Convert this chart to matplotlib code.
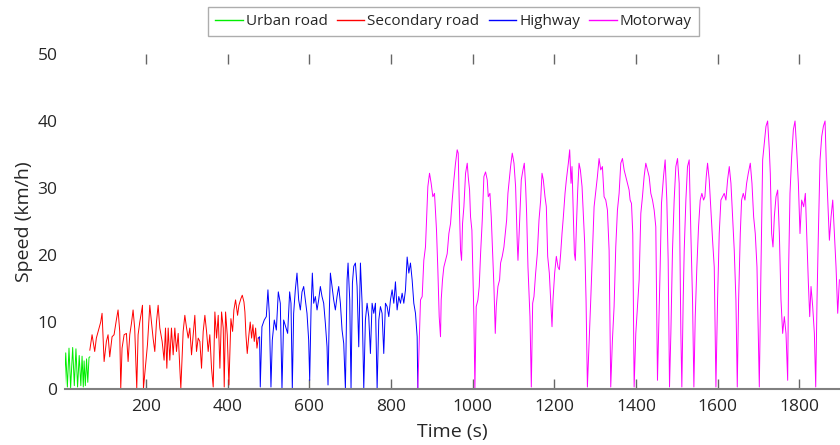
import matplotlib
matplotlib.use("Agg")
import matplotlib.pyplot as plt
from matplotlib.lines import Line2D

plt.rcParams['font.family'] = ['Open Sans', 'DejaVu Sans']

# ---- data (time in s, speed in km/h) ----
urban_t = [0, 3, 7, 11, 15, 20, 24, 28, 32, 36, 40, 43, 46, 48, 51, 54, 57, 60, 62]
urban_v = [0.5, 5.4, 0.3, 6.1, 0.2, 6.2, 0.5, 6.0, 0.3, 5.0, 0.5, 4.9, 0.3, 4.2, 0.5, 4.5, 1.0, 4.7, 4.8]

secondary_t = [62, 67.5, 74, 78, 88.7, 92, 97, 102.6, 106.7, 110.8, 116.5, 121.4, 127, 131.2, 135.3,
               137.8, 141, 146, 151.7, 155.8, 159.9, 164, 168, 172, 177, 180.3, 184.4, 188.5, 191,
               193.4, 203.2, 209, 213, 217, 221.2, 225.3, 229.4, 233.5, 239.2, 244, 247.4, 250.7,
               254, 258, 262, 266.2, 270.3, 274.4, 278.5, 282.5, 285, 290.7, 294.8, 299, 303, 307,
               311.2, 315.3, 319.3, 323.4, 327.5, 331.6, 335.7, 339.8, 343.9, 348, 352, 356, 360.2,
               364.3, 368.4, 372.5, 376.6, 380.7, 384.8, 388.9, 391.3, 394.6, 398.7, 402.8, 407.7,
               411.8, 415, 419.1, 424, 427.3, 432.2, 435.5, 439.6, 442, 444.5, 447.7, 451.8, 455,
               458.4, 461.6, 464.9, 468.2, 471.5, 474.7]
secondary_v = [5.8, 8.1, 5.6, 7.6, 10.0, 11.3, 4.1, 7.1, 8.1, 4.8, 7.8, 8.1, 10.3, 11.8, 8.6,
               0.1, 6.1, 8.1, 8.3, 4.1, 8.1, 9.8, 11.8, 9.0, 0.1, 8.1, 10.0, 11.5, 12.5,
               0.1, 6.6, 12.5, 10.0, 7.6, 5.6, 10.0, 12.5, 9.1, 7.1, 4.3, 9.1, 3.1,
               9.1, 4.3, 9.1, 5.1, 9.1, 5.6, 8.3, 3.1, 0.1, 8.6, 11.0, 9.1, 7.6, 9.1,
               5.1, 8.1, 11.0, 5.6, 7.6, 7.1, 3.1, 8.6, 11.0, 8.6, 5.6, 8.1, 3.1,
               0.3, 11.5, 7.6, 11.0, 3.1, 11.5, 9.1, 0.3, 11.5, 8.1, 0.6, 10.5,
               8.6, 11.8, 13.3, 11.0, 12.5, 13.5, 14.0, 13.0, 11.5, 8.1, 5.3, 8.1, 10.0,
               7.6, 9.6, 7.1, 9.1, 6.1, 7.6]

highway_t = [474.7, 478, 479.6, 483.7, 489.4, 494.4, 498.4, 501.7, 505.8, 509.1, 514, 519, 523.8,
             528.7, 532.8, 536.9, 541.8, 546.7, 551.6, 554.9, 558.1, 561.4, 565.5, 569.6, 573.7,
             577.8, 581.9, 586, 590, 594.1, 598.2, 600.7, 604, 607.2, 610.5, 614.6, 618.7, 622.7,
             626.8, 630.9, 635, 639.1, 643.2, 645.6, 648.9, 651.4, 655.5, 659.5, 663.6, 667.7,
             671.8, 675.9, 680, 684.1, 688.2, 692.3, 694.7, 698.8, 702, 705.4, 708.6, 712.7,
             716.8, 720.9, 725, 729.1, 733.2, 737.2, 741.3, 745.4, 749.5, 753.6, 757.7, 761.8,
             765.9, 770, 774, 778.1, 782.2, 786.3, 790.4, 794.5, 798.6, 802.7, 806.8, 810.8,
             814.9, 819, 823.1, 827.2, 831.3, 835.4, 839.5, 843.6, 847.6, 851.7, 855.8, 859.9,
             864, 865.6]
highway_v = [7.6, 7.8, 0.3, 9.3, 10.3, 10.8, 14.8, 11.3, 0.3, 7.3, 10.3, 8.8, 14.5,
             12.8, 0, 10.3, 9.3, 8.3, 14.5, 12.8, 0, 11.3, 14.8, 17.3, 13.3,
             11.8, 14.5, 15.3, 13.3, 11.3, 7.3, 1.3, 11.8, 17.3, 12.8, 13.8, 11.8, 13.3,
             15.3, 13.8, 12.8, 9.8, 6.3, 0.6, 11.8, 17.3, 15.3, 13.3, 11.8, 13.8,
             15.3, 12.8, 8.8, 6.8, 0, 16.3, 18.8, 13.3, 0, 15.8, 18.3, 18.8,
             15.3, 6.3, 18.8, 12.8, 0, 10.3, 12.8, 10.8, 5.3, 12.8, 11.3, 12.8,
             0, 10.3, 12.3, 11.3, 5.3, 12.8, 12.3, 10.8, 13.3, 14.8, 12.8, 16.0,
             11.8, 13.8, 12.8, 14.3, 12.8, 14.8, 19.7, 17.3, 18.8, 16.3, 12.8, 11.3,
             7.8, 0]

motorway_t = [865.6, 872.2, 876.3, 880.3, 884.4, 886.9, 890.2, 894.3, 898.3, 902.4, 906.5, 908.2,
              911.4, 914.7, 918, 921.2, 922.9, 926.1, 929.4, 933.5, 937.6, 941.7, 945.8, 949.9,
              954, 958, 962.1, 964.6, 967, 970.3, 972.8, 975.2, 978.5, 982.6, 986.7, 989.1,
              992.4, 994.8, 998.1, 1000.6, 1003, 1005.5, 1008.7, 1012.8, 1016.1, 1019.4, 1023.5,
              1027.5, 1031.6, 1035.7, 1038.2, 1042.3, 1045.5, 1048.8, 1052.1, 1055.4, 1057.8,
              1061.9, 1066, 1068.4, 1072.5, 1076.6, 1079.9, 1083.2, 1086.4, 1089.7, 1092.9, 1097,
              1101.2, 1105.2, 1109.3, 1111, 1114.2, 1119.1, 1123.2, 1126.5, 1129.8, 1132.2,
              1135.5, 1140.4, 1143.7, 1147, 1150.2, 1154.3, 1158.4, 1162.5, 1166.6, 1169.9,
              1173.1, 1177.2, 1180.5, 1183.8, 1187.8, 1191.1, 1194.4, 1196.8, 1200.9, 1205,
              1209.1, 1212.4, 1215.6, 1218.9, 1222.2, 1226.3, 1229.5, 1234.4, 1237.7, 1241,
              1243.4, 1246.7, 1249.2, 1251.6, 1254.1, 1257.4, 1260.6, 1263.9, 1268, 1271.3,
              1274.5, 1277.8, 1281.1, 1289.3, 1297.5, 1305.6, 1309.7, 1313.8, 1317.9, 1322,
              1326.1, 1330.2, 1334.3, 1338.3, 1342.4, 1346.5, 1350.6, 1354.7, 1358.8, 1362.9,
              1367, 1371.1, 1375.2, 1379.2, 1383.3, 1385.8, 1389.1, 1392.3, 1395.6, 1399.7,
              1403.8, 1407.9, 1412, 1416, 1420.1, 1424.2, 1428.3, 1432.4, 1436.5, 1440.6,
              1444.7, 1448.7, 1452.8, 1459.4, 1462.6, 1467.6, 1471.6, 1475.7, 1479, 1482.3,
              1485.6, 1489.6, 1493.7, 1497.8, 1501.9, 1506, 1510.1, 1512.5, 1515.8, 1518.3,
              1522.4, 1526.4, 1530.5, 1534.6, 1538.7, 1542, 1545.3, 1549.3, 1553.4, 1557.5,
              1561.6, 1565.7, 1569, 1572.3, 1575.5, 1579.6, 1583.7, 1587.8, 1591.9, 1596,
              1600, 1604.1, 1608.2, 1612.3, 1616.4, 1620.5, 1624.6, 1628.7, 1632.8, 1636.8,
              1640.9, 1645, 1648.3, 1651.6, 1655.7, 1658.9, 1663, 1667.1, 1671.2, 1675.3,
              1680.2, 1684.3, 1688.4, 1692.4, 1696.6, 1699.8, 1702.3, 1706.4, 1710.5, 1714.5,
              1718.6, 1722.7, 1726.8, 1729.2, 1732.5, 1735.8, 1739.1, 1743.2, 1747.3, 1751.4,
              1755.4, 1759.5, 1763.6, 1767.7, 1771.8, 1774.2, 1777.5, 1781.6, 1785.7, 1789.8,
              1793.9, 1798, 1802, 1806.1, 1811, 1815.1, 1818.4, 1822.5, 1825.8, 1829,
              1833.1, 1837.2, 1840.5, 1843.7, 1847, 1851.1, 1855.2, 1859.3, 1863.4, 1866.6,
              1869.9, 1874, 1878.1, 1882.2, 1886.3, 1890.3, 1894.4, 1898.5]
motorway_v = [0, 13.3, 13.8, 19.2, 21.2, 25.2, 30.2, 32.2, 30.7, 28.7, 29.2, 27.2,
              23.7, 17.8, 10.8, 7.8, 13.3, 16.3, 18.2, 19.2, 20.2, 23.2, 24.7, 28.2,
              31.2, 33.7, 35.7, 35.2, 28.2, 20.7, 19.2, 24.7, 27.2, 32.2, 33.7, 31.7,
              29.7, 25.7, 23.7, 16.8, 10.8, 0, 12.3, 13.3, 15.3, 20.2, 25.2,
              31.7, 32.4, 31.2, 28.7, 29.2, 25.7, 20.7, 15.3, 8.3, 12.3,
              15.3, 16.3, 18.8, 19.8, 21.2, 23.2, 25.2, 29.2, 31.2, 33.2, 35.2,
              33.7, 30.2, 21.7, 19.2, 23.7, 31.2, 32.7, 33.7, 30.2, 26.2,
              18.2, 10.8, 0.3, 12.8, 13.8, 17.3, 20.2, 25.2, 28.2, 32.2,
              31.2, 28.7, 27.2, 19.8, 17.3, 13.3, 9.3, 13.3, 17.3, 19.8,
              18.2, 17.8, 20.2, 23.2, 25.7, 29.2, 31.2, 33.7, 35.7, 30.7,
              33.2, 25.7, 20.2, 19.2, 24.2, 29.7, 33.7, 32.7, 30.2, 25.7,
              21.7, 13.3, 0.3, 13.3, 27.2, 31.7, 34.4, 32.7, 33.2, 28.7,
              28.2, 26.7, 20.7, 0.3, 7.3, 12.3, 21.2, 26.7, 29.2, 33.7,
              34.4, 32.7, 31.7, 30.7, 29.7, 28.2, 27.7, 23.2, 0.3, 8.3,
              12.3, 16.3, 26.2, 28.7, 31.7, 33.7, 32.7, 31.7, 29.2, 28.2,
              26.7, 24.2, 1.3, 18.2, 27.7, 31.7, 34.2, 28.2, 19.2, 0.3,
              8.3, 20.7, 28.2, 33.2, 34.4, 30.7, 8.3, 0.3, 13.3, 20.7,
              28.2, 33.2, 34.2, 23.2, 13.3, 0.3, 10.8, 18.2, 24.2, 28.2,
              29.2, 28.2, 28.7, 31.7, 33.7, 31.2, 26.7, 22.2, 18.2, 0.3,
              13.3, 23.2, 28.2, 28.7, 29.2, 28.2, 31.2, 33.2, 30.7, 25.7,
              20.7, 13.3, 0.3, 13.3, 23.2, 28.2, 29.2, 28.2, 30.7, 32.2,
              33.7, 30.7, 25.7, 23.2, 18.2, 8.3, 0.3, 18.2, 34.2, 36.7,
              39.2, 40.0, 35.7, 32.2, 23.2, 21.2, 25.7, 28.7, 29.7, 23.2,
              13.3, 8.3, 10.8, 8.3, 1.3, 18.2, 29.2, 34.7, 38.7, 40.0,
              35.7, 30.7, 23.2, 28.2, 27.2, 29.2, 23.2, 15.8, 10.8, 15.3,
              12.3, 8.3, 0.3, 13.3, 23.2, 34.2, 37.7, 39.2, 40.0, 33.2,
              28.2, 22.2, 25.7, 28.2, 23.2, 18.2, 11.3, 16.3]

labels = ['Urban road', 'Secondary road', 'Highway', 'Motorway']
colors = ['#00ee00', '#ff0000', '#0000ff', '#ff00ff']
y_ticks = [0, 10, 20, 30, 40, 50]
x_ticks = [200, 400, 600, 800, 1000, 1200, 1400, 1600, 1800]

fig = plt.figure(figsize=(8.4, 4.45), dpi=100)
ax = fig.add_axes([0.0768, 0.1258, 0.9232, 0.7529])

series = [(urban_t, urban_v), (secondary_t, secondary_v), (highway_t, highway_v), (motorway_t, motorway_v)]
for (t, v), c, lab in zip(series, colors, labels):
    ax.plot(t, v, color=c, lw=0.7, label=lab)

ax.set_xlim(0, 1900)
ax.set_ylim(0, 50)
ax.set_xticks(x_ticks)
ax.set_yticks(y_ticks)
ax.set_yticks([20, 40], minor=True)

for s in ['top', 'right', 'left']:
    ax.spines[s].set_visible(False)
ax.spines['bottom'].set_color('#808080')
ax.spines['bottom'].set_linewidth(1.5)

ax.tick_params(axis='x', which='major', direction='in', top=True, length=7, width=1,
               color='#666666', labelsize=12.5, labelcolor='#262626', pad=7)
ax.tick_params(axis='y', which='major', length=0, labelsize=12.5, labelcolor='#262626', pad=5)
ax.tick_params(axis='y', which='minor', direction='in', left=True, right=True, length=7,
               width=1, color='#333333')

ax.set_xlabel('Time (s)', fontsize=14, color='#262626', labelpad=6)
ax.set_ylabel('Speed (km/h)', fontsize=14, color='#262626', labelpad=3)

handles = [Line2D([0], [0], color=c, lw=1.0) for c in colors]
leg = fig.legend(handles, labels, loc='center', bbox_to_anchor=(0.54, 0.952), ncol=4,
                 fontsize=11, frameon=True, fancybox=False, handlelength=1.8,
                 handletextpad=0.2, columnspacing=0.6, borderpad=0.45)
leg.get_frame().set_edgecolor('#999999')
leg.get_frame().set_linewidth(1.0)
for t in leg.get_texts():
    t.set_color('#262626')

fig.savefig('out.png', dpi=100)
